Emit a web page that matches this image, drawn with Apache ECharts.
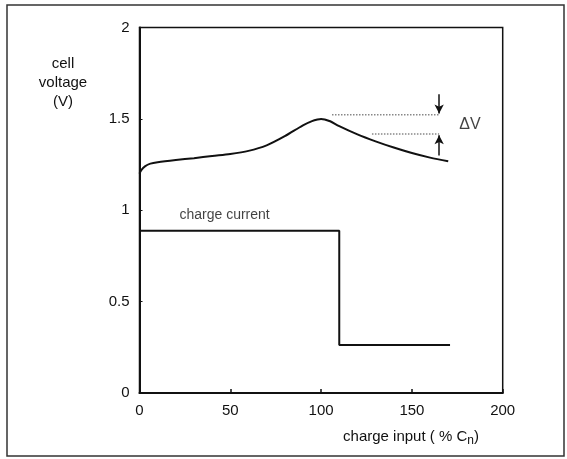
<!DOCTYPE html>
<html>
<head>
<meta charset="utf-8">
<script src="https://cdn.jsdelivr.net/npm/echarts@6/dist/echarts.min.js"></script>
<style>html,body{margin:0;padding:0;background:#fff}#c{width:567px;height:459px}</style>
</head>
<body>
<div id="c"></div>
<script>
// Data
var xTicks = [0, 50, 100, 150, 200];
var yTicks = [0, 0.5, 1, 1.5, 2];
var voltageX = [0, 1, 3, 6, 10, 20, 30, 40, 50, 60, 70, 80, 90, 95, 98, 100, 102, 105, 110, 120, 130, 140, 150, 160, 170];
var voltageV = [1.20, 1.22, 1.24, 1.255, 1.263, 1.275, 1.285, 1.297, 1.308, 1.325, 1.355, 1.405, 1.465, 1.488, 1.497, 1.500, 1.497, 1.487, 1.460, 1.415, 1.377, 1.343, 1.313, 1.288, 1.268];
var currentX = [0, 110, 110, 171];
var currentV = [0.888, 0.888, 0.263, 0.263];
var deltaUpperX = [106, 165];
var deltaUpperV = [1.522, 1.522];
var deltaLowerX = [128, 165];
var deltaLowerV = [1.417, 1.417];
var arrowUpper = [[165, 1.635], [165, 1.53]];
var arrowLower = [[165, 1.30], [165, 1.41]];
var labelCurrent = {text: 'charge current', x: 22, y: 0.975};
var labelDelta = {text: 'ΔV', x: 182, y: 1.467};

function pairs(xs, ys) { return xs.map(function (x, i) { return [x, ys[i]]; }); }

var chart = echarts.init(document.getElementById('c'));
var font = 'Liberation Sans, Arial, Helvetica, sans-serif';
chart.setOption({
  animation: false,
  backgroundColor: '#fff',
  grid: {left: 139.5, top: 27.5, right: 64.3, bottom: 66, show: true, borderColor: '#111', borderWidth: 1.5, backgroundColor: 'transparent'},
  graphic: [
    {type: 'rect', shape: {x: 7, y: 5, width: 557, height: 451}, style: {fill: 'none', stroke: '#333', lineWidth: 1.5}, z: -1},
    {type: 'text', x: 63, y: 54, style: {text: 'cell\nvoltage\n(V)', textAlign: 'center', fill: '#111', font: '15px ' + font, lineHeight: 19}},
    {type: 'text', x: 411, y: 427, style: {textAlign: 'center', rich: {a: {fontSize: 15, fontFamily: font, fill: '#111'}, s: {fontSize: 12, fontFamily: font, fill: '#111', padding: [8, 0, 0, 0]}}, text: '{a|charge input ( % C}{s|n}{a|)}'}}
  ],
  xAxis: {
    type: 'value', min: 0, max: 200, interval: 50,
    axisLine: {show: true, lineStyle: {color: '#111', width: 2}},
    axisTick: {show: true, inside: true, length: 4, lineStyle: {color: '#111', width: 1.5}},
    axisLabel: {color: '#111', fontSize: 15, fontFamily: font, margin: 10,
      formatter: function (v) { return xTicks.indexOf(v) >= 0 ? String(v) : ''; }},
    splitLine: {show: false}
  },
  yAxis: {
    type: 'value', min: 0, max: 2, interval: 0.5,
    axisLine: {show: true, lineStyle: {color: '#111', width: 2}},
    axisTick: {show: true, inside: true, length: 3, lineStyle: {color: '#111', width: 1}},
    axisLabel: {color: '#111', fontSize: 15, fontFamily: font, margin: 10,
      formatter: function (v) { return yTicks.indexOf(v) >= 0 ? String(v) : ''; }},
    splitLine: {show: false}
  },
  series: [
    {type: 'line', data: pairs(voltageX, voltageV), smooth: 0.3, showSymbol: false, lineStyle: {color: '#111', width: 2}},
    {type: 'line', data: pairs(currentX, currentV), showSymbol: false, lineStyle: {color: '#111', width: 2}},
    {type: 'line', data: pairs(deltaUpperX, deltaUpperV), showSymbol: false, lineStyle: {color: '#888', width: 1.5, type: 'dotted'}},
    {type: 'line', data: pairs(deltaLowerX, deltaLowerV), showSymbol: false, lineStyle: {color: '#888', width: 1.5, type: 'dotted'}},
    {type: 'line', data: [], markLine: {silent: true, symbol: ['none', 'arrow'], symbolSize: [7, 9],
      lineStyle: {color: '#111', width: 1.5, type: 'solid'}, label: {show: false},
      data: [[{coord: arrowUpper[0]}, {coord: arrowUpper[1]}], [{coord: arrowLower[0]}, {coord: arrowLower[1]}]]}},
    {type: 'scatter', symbolSize: 0, silent: true,
      data: [[labelCurrent.x, labelCurrent.y, labelCurrent.text]],
      label: {show: true, position: 'right', distance: 0, color: '#111', fontSize: 14, fontFamily: font,
        formatter: function (p) { return p.data[2]; }}},
    {type: 'scatter', symbolSize: 0, silent: true,
      data: [[labelDelta.x, labelDelta.y, labelDelta.text]],
      label: {show: true, position: 'inside', color: '#111', fontSize: 16, fontFamily: font,
        formatter: function (p) { return p.data[2]; }}}
  ]
});
</script>
</body>
</html>
